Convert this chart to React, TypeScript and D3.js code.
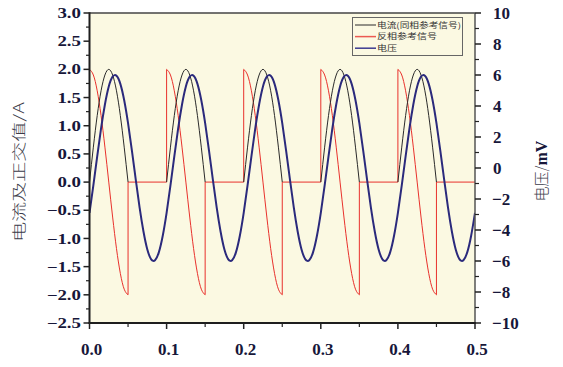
import React, { useRef, useEffect } from "react";
import * as d3 from "d3";

// axis ticks
const xTicks = [0, 0.1, 0.2, 0.3, 0.4, 0.5];
const xMinor = [0.05, 0.15, 0.25, 0.35, 0.45];
const leftTicks = [3.0, 2.5, 2.0, 1.5, 1.0, 0.5, 0.0, -0.5, -1.0, -1.5, -2.0, -2.5];
const leftMinor = [2.75, 2.25, 1.75, 1.25, 0.75, 0.25, -0.25, -0.75, -1.25, -1.75, -2.25];
const rightTicks = [10, 8, 6, 4, 2, 0, -2, -4, -6, -8, -10];
const rightMinor = [9, 7, 5, 3, 1, -1, -3, -5, -7, -9];

// waveform, one period = 0.1 s
const cycleStarts = [0, 0.1, 0.2, 0.3, 0.4];
const halfT = [0, 0.005, 0.01, 0.015, 0.02, 0.025, 0.03, 0.035, 0.04, 0.045, 0.05];
const blackHalf = [0, 0.62, 1.18, 1.62, 1.9, 2.0, 1.9, 1.62, 1.18, 0.62, 0];
const redHalf = [2.0, 1.9, 1.62, 1.18, 0.62, 0, -0.62, -1.18, -1.62, -1.9, -2.0];
const cycleT = [0, 0.005, 0.01, 0.015, 0.02, 0.025, 0.03, 0.035, 0.04, 0.045,
  0.05, 0.055, 0.06, 0.065, 0.07, 0.075, 0.08, 0.085, 0.09, 0.095];
const blueCycle = [-2.89, -1.12, 0.75, 2.56, 4.1, 5.26, 5.89, 5.95, 5.43, 4.37,
  2.89, 1.12, -0.75, -2.56, -4.1, -5.26, -5.89, -5.95, -5.43, -4.37];

const legendNames = ["电流(同相参考信号)", "反相参考信号", "电压"];

const W = 563, H = 367;
const L = 89.5, R = 475, T = 13, B = 323;

const fmt = (v: number, d: number) => (v < 0 ? "\u2212" : "") + Math.abs(v).toFixed(d);

export default function App() {
  const svgRef = useRef<SVGSVGElement>(null);

  useEffect(() => {
    const svg = d3.select(svgRef.current);
    svg.selectAll("*").remove();

    const x = d3.scaleLinear().domain([0, 0.5]).range([L, R]);
    const yl = d3.scaleLinear().domain([-2.5, 3]).range([B, T]);
    const yr = d3.scaleLinear().domain([-10, 10]).range([B, T]);

    svg.append("rect").attr("x", L).attr("y", T).attr("width", R - L).attr("height", B - T)
      .attr("fill", "#fbf9e2");

    svg.append("clipPath").attr("id", "plotclip").append("rect")
      .attr("x", L).attr("y", T).attr("width", R - L).attr("height", B - T);
    const g = svg.append("g").attr("clip-path", "url(#plotclip)");

    const smooth = d3.line<[number, number]>().x(d => x(d[0])).y(d => yl(d[1])).curve(d3.curveNatural);
    const straight = d3.line<[number, number]>().x(d => x(d[0])).y(d => yl(d[1]));

    // red: anti-phase reference
    cycleStarts.forEach((c, i) => {
      const pts = halfT.map((t, k) => [c + t, redHalf[k]] as [number, number]);
      g.append("path").attr("d", smooth(pts)).attr("fill", "none")
        .attr("stroke", "#e8312c").attr("stroke-width", 1);
      const seg: [number, number][] = [[c + 0.05, redHalf[10]], [c + 0.05, 0], [c + 0.1, 0]];
      if (i < cycleStarts.length - 1) seg.push([c + 0.1, redHalf[0]]);
      g.append("path").attr("d", straight(seg)).attr("fill", "none")
        .attr("stroke", "#e8312c").attr("stroke-width", 1);
    });

    // black: current
    cycleStarts.forEach(c => {
      const pts = halfT.map((t, k) => [c + t, blackHalf[k]] as [number, number]);
      g.append("path").attr("d", smooth(pts)).attr("fill", "none")
        .attr("stroke", "#2a2a2a").attr("stroke-width", 1);
    });

    // blue: voltage (right axis)
    const bluePts: [number, number][] = [];
    cycleStarts.forEach(c => cycleT.forEach((t, k) => bluePts.push([c + t, blueCycle[k]])));
    bluePts.push([0.5, blueCycle[0]]);
    const blueLine = d3.line<[number, number]>().x(d => x(d[0])).y(d => yr(d[1])).curve(d3.curveNatural);
    g.append("path").attr("d", blueLine(bluePts)).attr("fill", "none")
      .attr("stroke", "#2b2a7c").attr("stroke-width", 2);

    // frame
    svg.append("line").attr("x1", L).attr("x2", R).attr("y1", T).attr("y2", T)
      .attr("stroke", "#444").attr("stroke-width", 1.5);
    svg.append("line").attr("x1", R).attr("x2", R).attr("y1", T).attr("y2", B)
      .attr("stroke", "#555").attr("stroke-width", 1.5);
    svg.append("line").attr("x1", L).attr("x2", L).attr("y1", T - 0.75).attr("y2", B + 1)
      .attr("stroke", "#1e1e1e").attr("stroke-width", 2);
    svg.append("line").attr("x1", L - 1).attr("x2", R + 0.75).attr("y1", B).attr("y2", B)
      .attr("stroke", "#1e1e1e").attr("stroke-width", 2);

    const numFont = "'Liberation Serif', 'Times New Roman', serif";
    const numColor = "#17173a";

    // left axis
    leftTicks.forEach(v => {
      svg.append("line").attr("x1", L - 6).attr("x2", L).attr("y1", yl(v)).attr("y2", yl(v))
        .attr("stroke", "#222").attr("stroke-width", 1.5);
      svg.append("text").attr("transform", `translate(81,${yl(v)}) scale(1.3,1)`)
        .attr("text-anchor", "end").attr("dy", "0.35em")
        .attr("font-family", numFont).attr("font-weight", "bold").attr("font-size", 14.5)
        .attr("fill", numColor).text(fmt(v, 1));
    });
    leftMinor.forEach(v => {
      svg.append("line").attr("x1", L - 3.5).attr("x2", L).attr("y1", yl(v)).attr("y2", yl(v))
        .attr("stroke", "#222").attr("stroke-width", 1.2);
    });

    // right axis
    rightTicks.forEach(v => {
      svg.append("line").attr("x1", R).attr("x2", R + 6).attr("y1", yr(v)).attr("y2", yr(v))
        .attr("stroke", "#222").attr("stroke-width", 1.5);
      svg.append("text").attr("x", v < 0 ? 492 : 493).attr("y", yr(v)).attr("dy", "0.35em")
        .attr("font-family", numFont).attr("font-weight", "bold").attr("font-size", 17)
        .attr("fill", numColor).text(fmt(v, 0));
    });
    rightMinor.forEach(v => {
      svg.append("line").attr("x1", R).attr("x2", R + 4).attr("y1", yr(v)).attr("y2", yr(v))
        .attr("stroke", "#222").attr("stroke-width", 1.2);
    });

    // bottom axis
    xTicks.forEach(v => {
      svg.append("line").attr("x1", x(v)).attr("x2", x(v)).attr("y1", B).attr("y2", B + 6)
        .attr("stroke", "#222").attr("stroke-width", 1.5);
      svg.append("text").attr("x", x(v) + 2).attr("y", 355)
        .attr("text-anchor", "middle")
        .attr("font-family", numFont).attr("font-weight", "bold").attr("font-size", 17)
        .attr("fill", numColor).text(fmt(v, 1));
    });
    xMinor.forEach(v => {
      svg.append("line").attr("x1", x(v)).attr("x2", x(v)).attr("y1", B).attr("y2", B + 4)
        .attr("stroke", "#222").attr("stroke-width", 1.2);
    });

    // axis titles
    svg.append("text").attr("transform", "translate(24,172) rotate(-90)")
      .attr("text-anchor", "middle")
      .attr("font-family", "'Noto Sans CJK SC', sans-serif").attr("font-weight", 300)
      .attr("font-size", 14).attr("fill", "#3a3a48")
      .attr("textLength", 140).attr("lengthAdjust", "spacingAndGlyphs")
      .text("电流及正交值/A");

    const rt = svg.append("text").attr("transform", "translate(547,171) rotate(-90)")
      .attr("text-anchor", "middle").attr("fill", "#3a3a48");
    rt.append("tspan").attr("font-family", "'Noto Sans CJK SC', sans-serif").attr("font-weight", 300)
      .attr("font-size", 15).text("电压/");
    rt.append("tspan").attr("font-family", numFont).attr("font-weight", "bold")
      .attr("font-size", 16).attr("fill", numColor).text("mV");

    // legend
    const lg = svg.append("g");
    lg.append("rect").attr("x", 352.5).attr("y", 17.5).attr("width", 110).attr("height", 38)
      .attr("fill", "#fbf9e2").attr("stroke", "#666").attr("stroke-width", 1);
    const legendColors = ["#2a2a2a", "#ec5a52", "#3b3a90"];
    const legendWidths = [1, 1.5, 1.5];
    const legendLens = [84, 60, 20];
    legendNames.forEach((name, i) => {
      const yy = 25 + i * 11.6;
      lg.append("line").attr("x1", 355).attr("x2", 376).attr("y1", yy).attr("y2", yy)
        .attr("stroke", legendColors[i]).attr("stroke-width", legendWidths[i]);
      lg.append("text").attr("x", 377).attr("y", yy).attr("dy", "0.36em")
        .attr("font-family", "'Noto Sans CJK SC', sans-serif").attr("font-size", 8)
        .attr("fill", "#333").attr("textLength", legendLens[i]).attr("lengthAdjust", "spacingAndGlyphs")
        .text(name);
    });
  }, []);

  return (
    <svg ref={svgRef} width={W} height={H}
      style={{ position: "absolute", left: 0, top: 0, background: "#fff" }} />
  );
}
